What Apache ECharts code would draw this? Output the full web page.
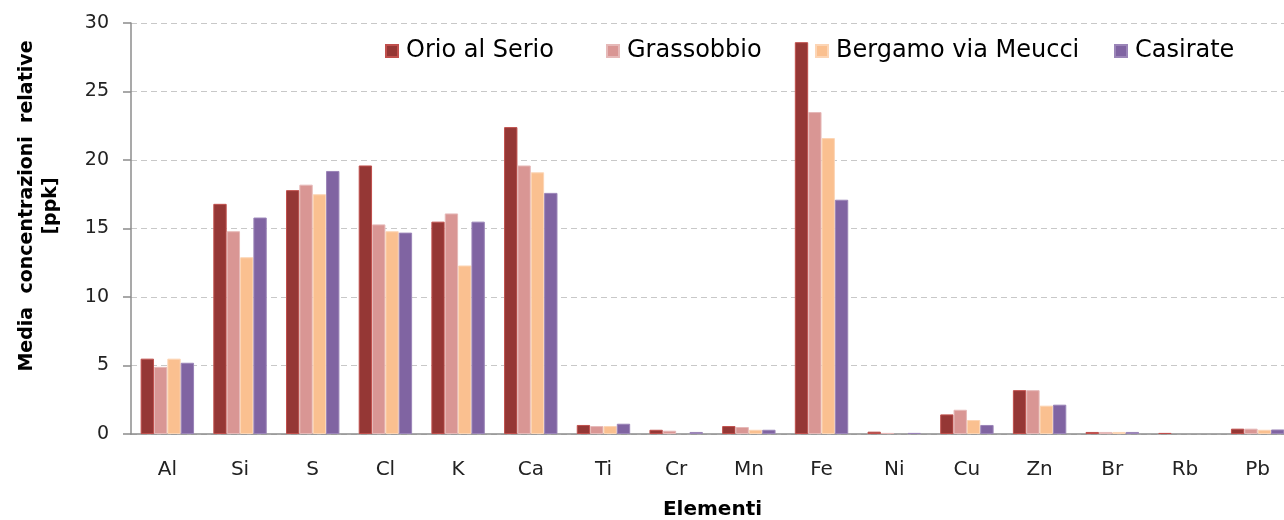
<!DOCTYPE html>
<html><head><meta charset="utf-8">
<script src="https://cdn.jsdelivr.net/npm/echarts@6/dist/echarts.min.js"></script>
<style>html,body{margin:0;padding:0;background:#fff}#c{width:1284px;height:520px}</style>
</head><body><div id="c"></div>
<script>
const categories = ['Al','Si','S','Cl','K','Ca','Ti','Cr','Mn','Fe','Ni','Cu','Zn','Br','Rb','Pb'];
const orio      = [5.5, 16.8, 17.8, 19.6, 15.5, 22.4, 0.66, 0.31, 0.58, 28.6, 0.17, 1.43, 3.2, 0.15, 0.08, 0.39];
const grassobbio= [4.9, 14.8, 18.2, 15.3, 16.1, 19.6, 0.58, 0.24, 0.51, 23.5, 0.08, 1.77, 3.2, 0.15, null, 0.39];
const bergamo   = [5.5, 12.9, 17.5, 14.8, 12.3, 19.1, 0.58, null, 0.31, 21.6, null, 1.02, 2.07, 0.15, null, 0.31];
const casirate  = [5.2, 15.8, 19.2, 14.7, 15.5, 17.6, 0.75, 0.15, 0.31, 17.1, 0.08, 0.66, 2.14, 0.15, null, 0.33];
const seriesNames = ['Orio al Serio','Grassobbio','Bergamo via Meucci','Casirate'];
const yTicks = [0,5,10,15,20,25,30];

const colors = ['#953735','#D99694','#FAC090','#8064A2'];
const borders = ['#C0504D','#E6B9B8','#FCD5B5','#9B85B8'];
const legendLeft = [385, 606, 815, 1114];
const data = [orio, grassobbio, bergamo, casirate];
const chart = echarts.init(document.getElementById('c'));
chart.setOption({
  animation:false,
  grid:{left:131, top:23, width:1163, height:411, outerBoundsMode:'none', containLabel:false},
  legend: seriesNames.map((n,i)=>({
    top:39, left:legendLeft[i], padding:0, itemWidth:12, itemHeight:12,
    icon:'rect',
    textStyle:{fontFamily:'DejaVu Sans', fontSize:24, color:'#000', padding:[0,0,0,3]},
    data:[n]
  })),
  xAxis:{
    type:'category', data:categories,
    name:'Elementi', nameLocation:'middle', nameGap:66,
    nameTextStyle:{fontFamily:'DejaVu Sans', fontWeight:'bold', fontSize:20, color:'#000'},
    axisLine:{lineStyle:{color:'#8c8c8c', width:1.5}},
    axisTick:{length:9, lineStyle:{color:'#8c8c8c', width:1.5}},
    axisLabel:{fontFamily:'DejaVu Sans', fontSize:20, color:'#222', margin:26}
  },
  yAxis:{
    type:'value', min:yTicks[0], max:yTicks[yTicks.length-1], interval:5,
    name:'Media  concentrazioni  relative\n[ppk]', nameLocation:'middle', nameGap:68,
    nameTextStyle:{fontFamily:'DejaVu Sans', fontWeight:'bold', fontSize:19, color:'#000', lineHeight:24, padding:[0,0,0,45]},
    axisLine:{show:true, lineStyle:{color:'#8c8c8c', width:1.5}},
    axisTick:{show:true, length:8, lineStyle:{color:'#8c8c8c', width:1.5}},
    axisLabel:{fontFamily:'DejaVu Sans', fontSize:19, color:'#222', margin:22},
    splitLine:{lineStyle:{color:'#c8c8c8', type:[6,4]}}
  },
  series: data.map((d,i)=>({
    name:seriesNames[i], type:'bar', data:d, barCategoryGap:'26.5%', barGap:'0%',
    itemStyle:{color:colors[i], borderColor:borders[i], borderWidth:1}
  }))
});
</script></body></html>
